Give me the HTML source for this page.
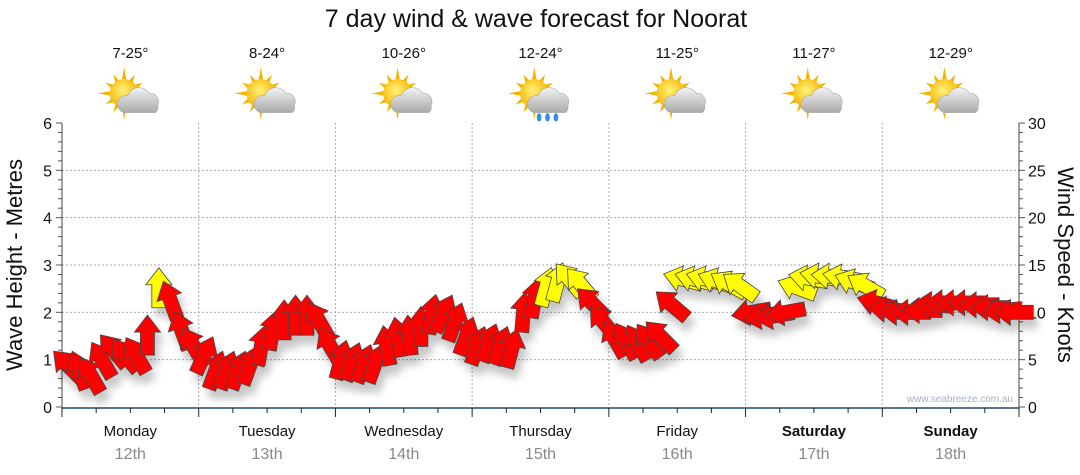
<!DOCTYPE html>
<html><head><meta charset="utf-8"><style>
body{margin:0;background:#fff;}
svg{display:block;font-family:"Liberation Sans",sans-serif;}
</style></head><body>
<svg id="c" width="1080" height="475">
<defs>
<filter id="sh" x="-50%" y="-50%" width="200%" height="200%"><feDropShadow dx="4" dy="9" stdDeviation="4" flood-color="#000" flood-opacity="0.22"/></filter>
<radialGradient id="sun" cx="45%" cy="40%" r="60%"><stop offset="0" stop-color="#fff27a"/><stop offset="1" stop-color="#f5b400"/></radialGradient>
<linearGradient id="cl" x1="0" y1="0" x2="0" y2="1"><stop offset="0" stop-color="#f2f2f2"/><stop offset="1" stop-color="#a9a9a9"/></linearGradient>
</defs>
<text x="536" y="27" text-anchor="middle" font-size="25" fill="#111">7 day wind &amp; wave forecast for Noorat</text>
<g id="grid"></g><g id="axes"></g><g id="topg"></g><g id="arrows" filter="url(#sh)"></g>
<text x="1013" y="402" text-anchor="end" font-size="10" fill="#a8b0c0">www.seabreeze.com.au</text>
<text transform="translate(22,265) rotate(-90)" text-anchor="middle" font-size="22" fill="#111">Wave Height - Metres</text>
<text transform="translate(1058,265) rotate(90)" text-anchor="middle" font-size="22" fill="#111">Wind Speed - Knots</text>
</svg>
<script>
const days=["Monday","Tuesday","Wednesday","Thursday","Friday","Saturday","Sunday"];
const dates=["12th","13th","14th","15th","16th","17th","18th"];
const temps=["7-25°","8-24°","10-26°","12-24°","11-25°","11-27°","12-29°"];
const rainy=[false,false,false,true,false,false,false];
const waveTicks=[0,1,2,3,4,5,6];
const windTicks=[0,5,10,15,20,25,30];
// wind every 2 hours starting 01:00 Monday
const windSpeed=[4.4,3.9,3.4,5.0,6.0,5.5,5.5,7.6,12.6,11.3,8.1,6.5,
5.5,3.9,3.9,3.9,4.4,6.5,8.1,9.2,9.7,9.7,9.2,6.5,
5.0,4.8,4.6,4.6,6.5,7.4,7.6,8.5,9.8,9.9,9.0,7.5,
6.5,6.8,6.5,6.2,10,11.5,12.7,13.2,13.5,13.0,11,9,
7.2,7.0,6.8,7.0,7.5,10.8,13.5,13.5,13.5,13.3,13,12.8,
10,9.6,9.6,10,12.6,13.6,13.8,13.8,13.7,13.2,12.8,11,
10.3,10.0,10.0,10.2,10.8,11,11,11,10.8,10.5,10.2,10];
const windDir=[-45,-20,-30,-30,-40,-40,-30,0,0,-20,-20,-30,
25,20,20,20,20,10,10,0,0,0,-30,-30,
15,20,20,20,-10,-10,-5,0,10,25,20,20,
20,20,20,15,5,10,15,15,-40,-40,-45,-40,
-30,-30,-30,-35,-45,-50,-75,-75,-75,-70,-60,-55,
-100,-100,-100,-100,-70,-80,-80,-85,-80,-70,-60,-75,
-85,-90,-90,-90,-85,-90,-90,-90,-90,-90,-95,-90];
const X0=62,X1=1019,Y0=407,Y1=123,DW=(X1-X0)/7;
const NS="http://www.w3.org/2000/svg";
function mk(t,a,p){const e=document.createElementNS(NS,t);for(const k in a)e.setAttribute(k,a[k]);(p||document.getElementById('c')).appendChild(e);return e;}
const xHour=h=>X0+h*DW/24;
const yWave=v=>Y0-v*(Y0-Y1)/6;
const yWind=v=>Y0-v*(Y0-Y1)/30;
const gridG=document.getElementById('grid'),axesG=document.getElementById('axes'),topG=document.getElementById('topg'),arG=document.getElementById('arrows');
waveTicks.forEach(v=>{if(v>0&&v<6){const l=mk('line',{x1:X0,x2:X1,y1:yWave(v),y2:yWave(v),stroke:'#aaa','stroke-dasharray':'2,2'},gridG);

}
const t=mk('text',{x:X0-10,y:yWave(v)+6,'text-anchor':'end','font-size':16,fill:'#111'},axesG);t.textContent=v;

});
windTicks.forEach(v=>{const t=mk('text',{x:X1+9,y:yWind(v)+6,'font-size':16,fill:'#111'},axesG);t.textContent=v;

});
for(let i=0;i<=30;i++){const y=yWind(i),L=i%5==0?6:4;
mk('line',{x1:X0-L,x2:X0,y1:y,y2:y,stroke:'#555'},axesG);mk('line',{x1:X1,x2:X1+L,y1:y,y2:y,stroke:'#555'},axesG);}
mk('line',{x1:X0,x2:X0,y1:Y1,y2:Y0+1,stroke:'#444'},axesG);mk('line',{x1:X1,x2:X1,y1:Y1,y2:Y0+1,stroke:'#444'},axesG);
for(let d=1;d<7;d++){const l=mk('line',{x1:X0+d*DW,x2:X0+d*DW,y1:Y1,y2:Y0,stroke:'#aaa','stroke-dasharray':'2,2'},gridG);

}
mk('line',{x1:X0,x2:X1,y1:Y0+1,y2:Y0+1,stroke:'#1d4a6e','stroke-width':1.5},axesG);
for(let q=0;q<=28;q++){const x=X0+q*DW/4;mk('line',{x1:x,x2:x,y1:Y0+1,y2:Y0+(q%4==0?10:6),stroke:'#222'},axesG);}
days.forEach((d,i)=>{const cx=X0+(i+0.5)*DW;
const a=mk('text',{x:cx,y:436,'text-anchor':'middle','font-size':15,fill:'#111','font-weight':i>=5?'bold':'normal'},axesG);a.textContent=d;


const b=mk('text',{x:cx,y:459,'text-anchor':'middle','font-size':16,fill:'#888'},axesG);b.textContent=dates[i];


const t=mk('text',{x:cx,y:58,'text-anchor':'middle','font-size':15,fill:'#111'},topG);t.textContent=temps[i];


const g=mk('g',{transform:`translate(${cx+1},97) scale(1.2)`},topG);


for(let r=0;r<12;r++){const an=r*30*Math.PI/180,L=r%3==0?22:18;mk('polygon',{points:`${-6+Math.cos(an)*L},${-3+Math.sin(an)*L} ${-6+Math.cos(an+0.18)*11},${-3+Math.sin(an+0.18)*11} ${-6+Math.cos(an-0.18)*11},${-3+Math.sin(an-0.18)*11}`,fill:'#f4b400'},g);}
mk('circle',{cx:-6,cy:-3,r:12,fill:'url(#sun)'},g);
mk('path',{d:'M-6,13 a7,7 0 0 1 3,-14 a10,10 0 0 1 18,-2 a7,7 0 0 1 7,10 a6,6 0 0 1 -2,6 z',fill:'url(#cl)',stroke:'#aaa','stroke-width':0.5},g);
if(rainy[i]){[-2,5,12].forEach(dx=>mk('ellipse',{cx:dx,cy:17,rx:2,ry:3.5,fill:'#3a8ee6'},g));}
});
windSpeed.forEach((v,i)=>{const h=1+2*i;
const p=mk('polygon',{points:'-7,20 7,20 7,-3 13,-3 0,-20 -13,-3 -7,-3',fill:v>=12.5?'#ffff00':'#ff0000',stroke:'#444','stroke-width':0.8,
transform:`translate(${xHour(h)},${yWind(v)}) rotate(${windDir[i]})`},arG);

});
</script>
</body></html>
